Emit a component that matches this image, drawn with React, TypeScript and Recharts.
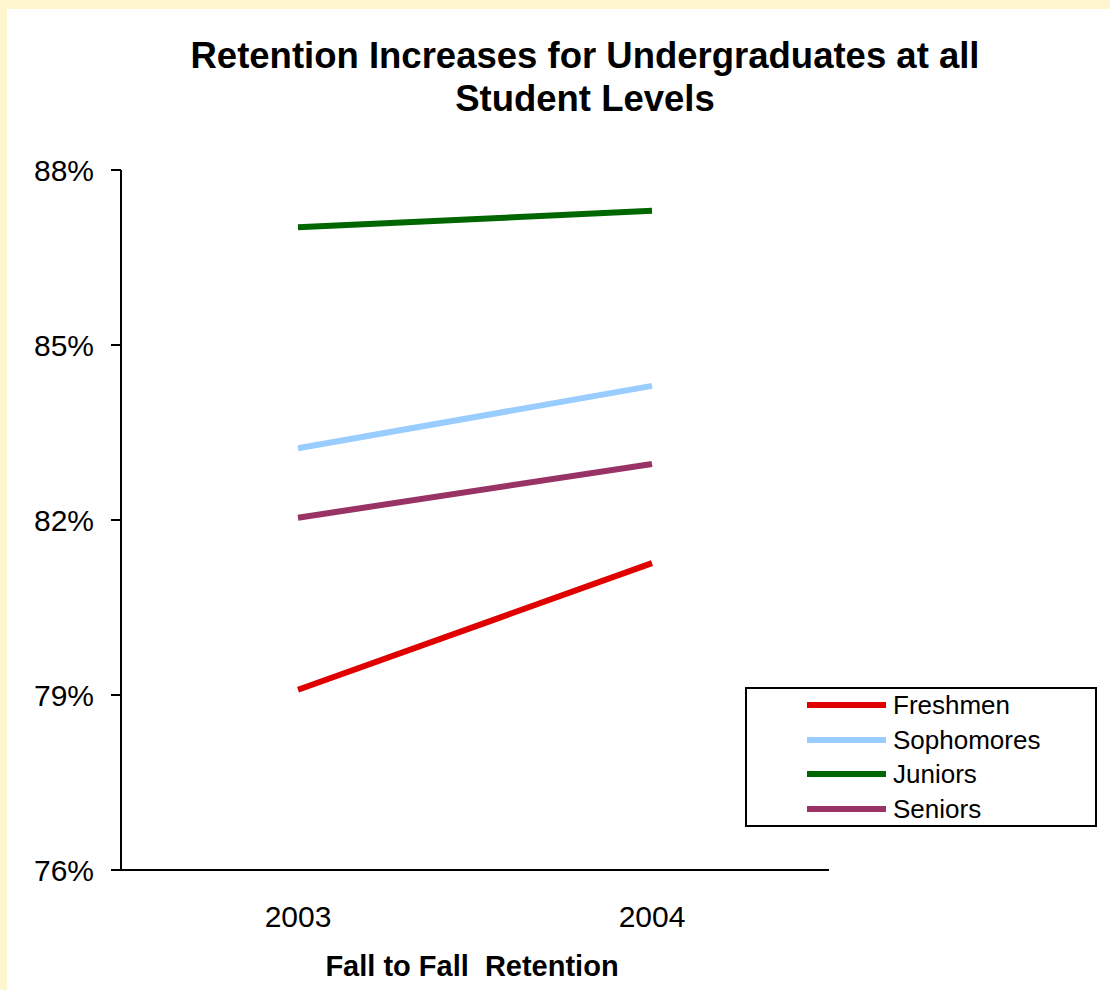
import React from "react";
import { LineChart, Line, XAxis, YAxis, Legend } from "recharts";

const categories = ["2003", "2004"];
const seriesNames = ["Freshmen", "Sophomores", "Juniors", "Seniors"];
const freshmen = [79.09, 81.26];
const sophomores = [83.23, 84.3];
const juniors = [87.02, 87.3];
const seniors = [82.04, 82.96];
const yTicks = [76, 79, 82, 85, 88];

const data = categories.map((year, i) => ({
  year,
  Freshmen: freshmen[i],
  Sophomores: sophomores[i],
  Juniors: juniors[i],
  Seniors: seniors[i],
}));

const FONT = '"Liberation Sans", Arial, sans-serif';

const LegendBox = (props: any) => {
  const payload = [...(props.payload || [])].sort(
    (a: any, b: any) => seriesNames.indexOf(a.value) - seriesNames.indexOf(b.value)
  );
  return (
    <div
      style={{
        width: 352,
        height: 140,
        border: "2px solid #000",
        boxSizing: "border-box",
        background: "#fff",
        position: "relative",
        fontFamily: FONT,
      }}
    >
      {payload.map((p: any, i: number) => (
        <div
          key={p.value}
          style={{
            position: "absolute",
            left: 60,
            top: 16 + i * 34.7 - 17,
            height: 34,
            display: "flex",
            alignItems: "center",
          }}
        >
          <div style={{ width: 79, height: 6, background: p.color }} />
          <span
            style={{
              marginLeft: 7,
              fontSize: 26,
              color: "#000",
              lineHeight: "34px",
              whiteSpace: "nowrap",
            }}
          >
            {p.value}
          </span>
        </div>
      ))}
    </div>
  );
};

export default function App() {
  return (
    <div
      style={{
        position: "absolute",
        left: 0,
        top: 0,
        width: 1110,
        height: 990,
        background: "#FEF6CE",
        overflow: "hidden",
        fontFamily: FONT,
      }}
    >
      <div
        style={{
          position: "absolute",
          left: 7,
          top: 9,
          right: 0,
          bottom: 0,
          background: "#fff",
        }}
      />
      <div
        style={{
          position: "absolute",
          left: 185,
          width: 800,
          top: 34,
          textAlign: "center",
          fontWeight: "bold",
          fontSize: 36.5,
          lineHeight: "43px",
          color: "#000",
        }}
      >
        Retention Increases for Undergraduates at all
        <br />
        Student Levels
      </div>
      <div
        style={{
          position: "absolute",
          left: 172,
          width: 600,
          top: 950,
          textAlign: "center",
          fontWeight: "bold",
          fontSize: 29,
          lineHeight: "33px",
          whiteSpace: "pre",
          color: "#000",
        }}
      >
        {"Fall to Fall  Retention"}
      </div>
      <div style={{ position: "absolute", left: 0, top: 0 }}>
        <LineChart
          width={1110}
          height={990}
          data={data}
          margin={{ top: 170, right: 281, bottom: 0, left: 21 }}
        >
          <XAxis
            dataKey="year"
            height={120}
            padding={{ left: 177, right: 177 }}
            tickLine={false}
            tickSize={0}
            tickMargin={36}
            axisLine={{ stroke: "#000", strokeWidth: 2 }}
            tick={{ fill: "#000", fontSize: 30, fontFamily: FONT }}
          />
          <YAxis
            width={100}
            domain={[76, 88]}
            ticks={yTicks}
            interval={0}
            tickFormatter={(v: number) => `${v}%`}
            tickSize={10}
            tickMargin={17}
            axisLine={{ stroke: "#000", strokeWidth: 2 }}
            tickLine={{ stroke: "#000", strokeWidth: 2 }}
            tick={{ fill: "#000", fontSize: 30, fontFamily: FONT }}
          />
          <Legend
            layout="vertical"
            align="center"
            verticalAlign="middle"
            content={<LegendBox />}
            wrapperStyle={{
              left: 745,
              top: 687,
              bottom: "auto",
              right: "auto",
              width: 352,
              height: 140,
            }}
          />
          <Line
            type="linear"
            dataKey="Freshmen"
            stroke="#E00000"
            strokeWidth={6}
            dot={false}
            activeDot={false}
            isAnimationActive={false}
          />
          <Line
            type="linear"
            dataKey="Sophomores"
            stroke="#99CCFF"
            strokeWidth={6}
            dot={false}
            activeDot={false}
            isAnimationActive={false}
          />
          <Line
            type="linear"
            dataKey="Juniors"
            stroke="#006600"
            strokeWidth={6}
            dot={false}
            activeDot={false}
            isAnimationActive={false}
          />
          <Line
            type="linear"
            dataKey="Seniors"
            stroke="#993366"
            strokeWidth={6}
            dot={false}
            activeDot={false}
            isAnimationActive={false}
          />
        </LineChart>
      </div>
    </div>
  );
}
